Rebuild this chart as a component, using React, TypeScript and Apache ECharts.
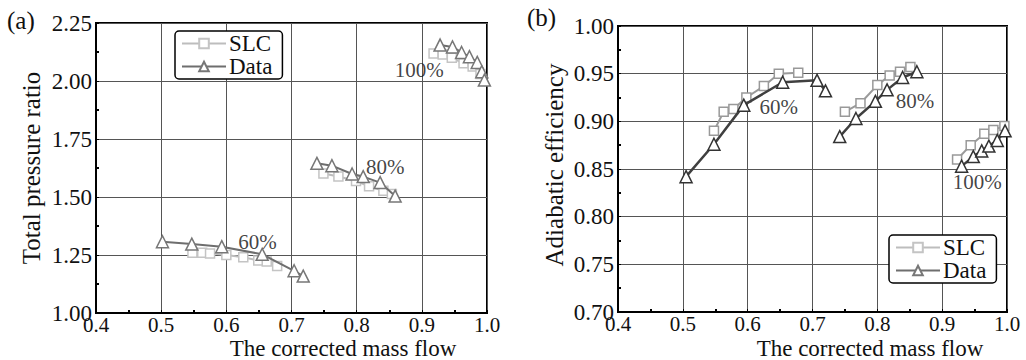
import React, { useEffect, useRef } from "react";
import * as echarts from "echarts";

// ---- (a) Total pressure ratio ----
const p60SlcX = [0.548, 0.563, 0.575, 0.600, 0.626, 0.649, 0.662, 0.678];
const p60SlcY = [1.26, 1.26, 1.257, 1.25, 1.24, 1.226, 1.222, 1.203];
const p60DataX = [0.502, 0.547, 0.593, 0.655, 0.704, 0.718];
const p60DataY = [1.307, 1.297, 1.286, 1.253, 1.182, 1.159];
const p80SlcX = [0.749, 0.772, 0.799, 0.819, 0.841, 0.854];
const p80SlcY = [1.601, 1.588, 1.569, 1.546, 1.527, 1.513];
const p80DataX = [0.739, 0.762, 0.793, 0.810, 0.836, 0.859];
const p80DataY = [1.645, 1.635, 1.599, 1.588, 1.562, 1.504];
const p100SlcX = [0.918, 0.932, 0.946, 0.964, 0.978, 0.990];
const p100SlcY = [2.119, 2.114, 2.100, 2.076, 2.062, 2.030];
const p100DataX = [0.928, 0.947, 0.961, 0.973, 0.985, 0.992, 0.996];
const p100DataY = [2.155, 2.147, 2.123, 2.105, 2.080, 2.040, 2.004];

// ---- (b) Adiabatic efficiency ----
const e60SlcX = [0.548, 0.563, 0.578, 0.598, 0.625, 0.648, 0.678];
const e60SlcY = [0.890, 0.910, 0.913, 0.925, 0.937, 0.950, 0.951];
const e60DataX = [0.505, 0.548, 0.594, 0.654, 0.707, 0.720];
const e60DataY = [0.842, 0.876, 0.917, 0.941, 0.943, 0.932];
const e80SlcX = [0.750, 0.774, 0.800, 0.819, 0.835, 0.851];
const e80SlcY = [0.910, 0.919, 0.938, 0.948, 0.952, 0.957];
const e80DataX = [0.742, 0.767, 0.797, 0.815, 0.839, 0.861];
const e80DataY = [0.884, 0.903, 0.921, 0.933, 0.946, 0.952];
const e100SlcX = [0.923, 0.944, 0.965, 0.979, 0.996];
const e100SlcY = [0.860, 0.875, 0.887, 0.891, 0.895];
const e100DataX = [0.930, 0.948, 0.961, 0.972, 0.985, 0.997];
const e100DataY = [0.853, 0.863, 0.869, 0.874, 0.880, 0.890];

// speed-line labels (anchored in data coordinates)
const speedLabels = ["60%", "80%", "100%"];
const pLabelX = [0.648, 0.844, 0.896];
const pLabelY = [1.307, 1.631, 2.047];
const eLabelX = [0.648, 0.858, 0.954];
const eLabelY = [0.915, 0.921, 0.836];

const seriesNames = ["SLC", "Data"];
const xLabel = "The corrected mass flow";
const yLabelA = "Total pressure ratio";
const yLabelB = "Adiabatic efficiency";

const FONT = "Liberation Serif";

const zip = (xs: number[], ys: number[]) => xs.map((x, i) => [x, ys[i]]);

export default function App() {
  const ref = useRef<HTMLDivElement>(null);
  useEffect(() => {
    if (!ref.current) return;
    const chart = echarts.init(ref.current, undefined, { renderer: "svg" });

    const slcStyle = (idx: number, lineColor: string, markColor: string) => ({
      name: "SLC",
      type: "line",
      xAxisIndex: idx,
      yAxisIndex: idx,
      symbol: "rect",
      symbolSize: 9,
      z: 2,
      lineStyle: { color: lineColor, width: 2 },
      itemStyle: { color: "#fff", borderColor: markColor, borderWidth: 1.5 },
    });
    const dataStyle = (idx: number, lineColor: string, markColor: string, w: number) => ({
      name: "Data",
      type: "line",
      xAxisIndex: idx,
      yAxisIndex: idx,
      symbol: "triangle",
      symbolSize: 12,
      z: 3,
      lineStyle: { color: lineColor, width: w },
      itemStyle: { color: "#fff", borderColor: markColor, borderWidth: 1.5 },
    });

    const labelSeries = (idx: number, xs: number[], ys: number[]) => ({
      type: "scatter",
      xAxisIndex: idx,
      yAxisIndex: idx,
      symbolSize: 0,
      silent: true,
      z: 5,
      data: xs.map((x, i) => ({ value: [x, ys[i]], name: speedLabels[i] })),
      label: {
        show: true,
        position: "inside",
        formatter: (p: any) => p.name,
        fontFamily: FONT,
        fontSize: 21,
        color: "#111",
      },
    });

    const xAxisBase = (idx: number) => ({
      type: "value",
      gridIndex: idx,
      min: 0.4,
      max: 1.0,
      interval: 0.1,
      axisLine: { show: true, lineStyle: { color: "#000", width: 2 } },
      axisTick: { show: true, inside: true, length: 3, lineStyle: { color: "#000" } },
      minorTick: { show: true, splitNumber: 2, length: 3, lineStyle: { color: "#000", width: 2 } },
      splitLine: { show: true, lineStyle: { color: "#555", width: 1 } },
      axisLabel: {
        formatter: (v: number) => v.toFixed(1),
        fontFamily: FONT,
        fontSize: 21,
        color: "#111",
        margin: 1,
      },
    });

    const yAxisBase = (idx: number, min: number, max: number, interval: number) => ({
      type: "value",
      gridIndex: idx,
      min,
      max,
      interval,
      axisLine: { show: true, lineStyle: { color: "#000", width: 2 } },
      axisTick: { show: true, inside: true, length: 3, lineStyle: { color: "#000" } },
      minorTick: { show: true, splitNumber: 2, length: 3, lineStyle: { color: "#000", width: 2 } },
      splitLine: { show: true, lineStyle: { color: "#555", width: 1 } },
      axisLabel: {
        formatter: (v: number) => v.toFixed(2),
        fontFamily: FONT,
        fontSize: 23,
        lineHeight: 12,
        color: "#111",
        margin: 4,
      },
    });

    const legendBase = (left: number, top: number) => ({
      data: seriesNames,
      orient: "vertical",
      left,
      top,
      itemWidth: 44,
      itemHeight: 12,
      itemGap: 0,
      padding: [1, 10, 1, 6],
      borderColor: "#000",
      borderWidth: 1.5,
      borderRadius: 4,
      backgroundColor: "#fff",
      selectedMode: false,
      textStyle: { fontFamily: FONT, fontSize: 23, color: "#111", padding: [0, 0, 0, -2] },
    });

    const txt = (size: number) => ({ fontFamily: FONT, fontSize: size, fill: "#111" });

    const option: any = {
      animation: false,
      backgroundColor: "#fff",
      textStyle: { fontFamily: FONT },
      grid: [
        { left: 96, top: 23, width: 391, height: 290, show: true, borderColor: "#000", borderWidth: 2, backgroundColor: "transparent" },
        { left: 618, top: 26, width: 389, height: 286, show: true, borderColor: "#000", borderWidth: 2, backgroundColor: "transparent" },
      ],
      xAxis: [xAxisBase(0), xAxisBase(1)],
      yAxis: [yAxisBase(0, 1.0, 2.25, 0.25), yAxisBase(1, 0.7, 1.0, 0.05)],
      legend: [legendBase(175, 31), legendBase(889, 235)],
      graphic: [
        { type: "text", left: 7, top: 8, style: { text: "(a)", ...txt(25) } },
        { type: "text", left: 527, top: 5, style: { text: "(b)", ...txt(25) } },
        { type: "text", x: 343, y: 348, style: { text: xLabel, ...txt(23), align: "center", verticalAlign: "middle" } },
        { type: "text", x: 870, y: 348, style: { text: xLabel, ...txt(23), align: "center", verticalAlign: "middle" } },
        { type: "text", x: 31, y: 168, rotation: Math.PI / 2, style: { text: yLabelA, ...txt(25), align: "center", verticalAlign: "middle" } },
        { type: "text", x: 554, y: 165, rotation: Math.PI / 2, style: { text: yLabelB, ...txt(25), align: "center", verticalAlign: "middle" } },
      ],
      series: [
        { ...slcStyle(0, "#bdbdbd", "#c4c4c4"), data: zip(p60SlcX, p60SlcY) },
        { ...slcStyle(0, "#bdbdbd", "#c4c4c4"), data: zip(p80SlcX, p80SlcY) },
        { ...slcStyle(0, "#bdbdbd", "#c4c4c4"), data: zip(p100SlcX, p100SlcY) },
        { ...dataStyle(0, "#6e6e6e", "#777", 2), data: zip(p60DataX, p60DataY) },
        { ...dataStyle(0, "#6e6e6e", "#777", 2), data: zip(p80DataX, p80DataY) },
        { ...dataStyle(0, "#6e6e6e", "#777", 2), data: zip(p100DataX, p100DataY) },
        { ...slcStyle(1, "#9a9a9a", "#999"), data: zip(e60SlcX, e60SlcY) },
        { ...slcStyle(1, "#9a9a9a", "#999"), data: zip(e80SlcX, e80SlcY) },
        { ...slcStyle(1, "#9a9a9a", "#999"), data: zip(e100SlcX, e100SlcY) },
        { ...dataStyle(1, "#404040", "#333", 2.5), data: zip(e60DataX, e60DataY) },
        { ...dataStyle(1, "#404040", "#333", 2.5), data: zip(e80DataX, e80DataY) },
        { ...dataStyle(1, "#404040", "#333", 2.5), data: zip(e100DataX, e100DataY) },
        labelSeries(0, pLabelX, pLabelY),
        labelSeries(1, eLabelX, eLabelY),
      ],
    };
    chart.setOption(option);
    return () => chart.dispose();
  }, []);

  return (
    <div
      ref={ref}
      style={{ position: "fixed", left: 0, top: 0, width: 1026, height: 360, background: "#fff" }}
    />
  );
}
